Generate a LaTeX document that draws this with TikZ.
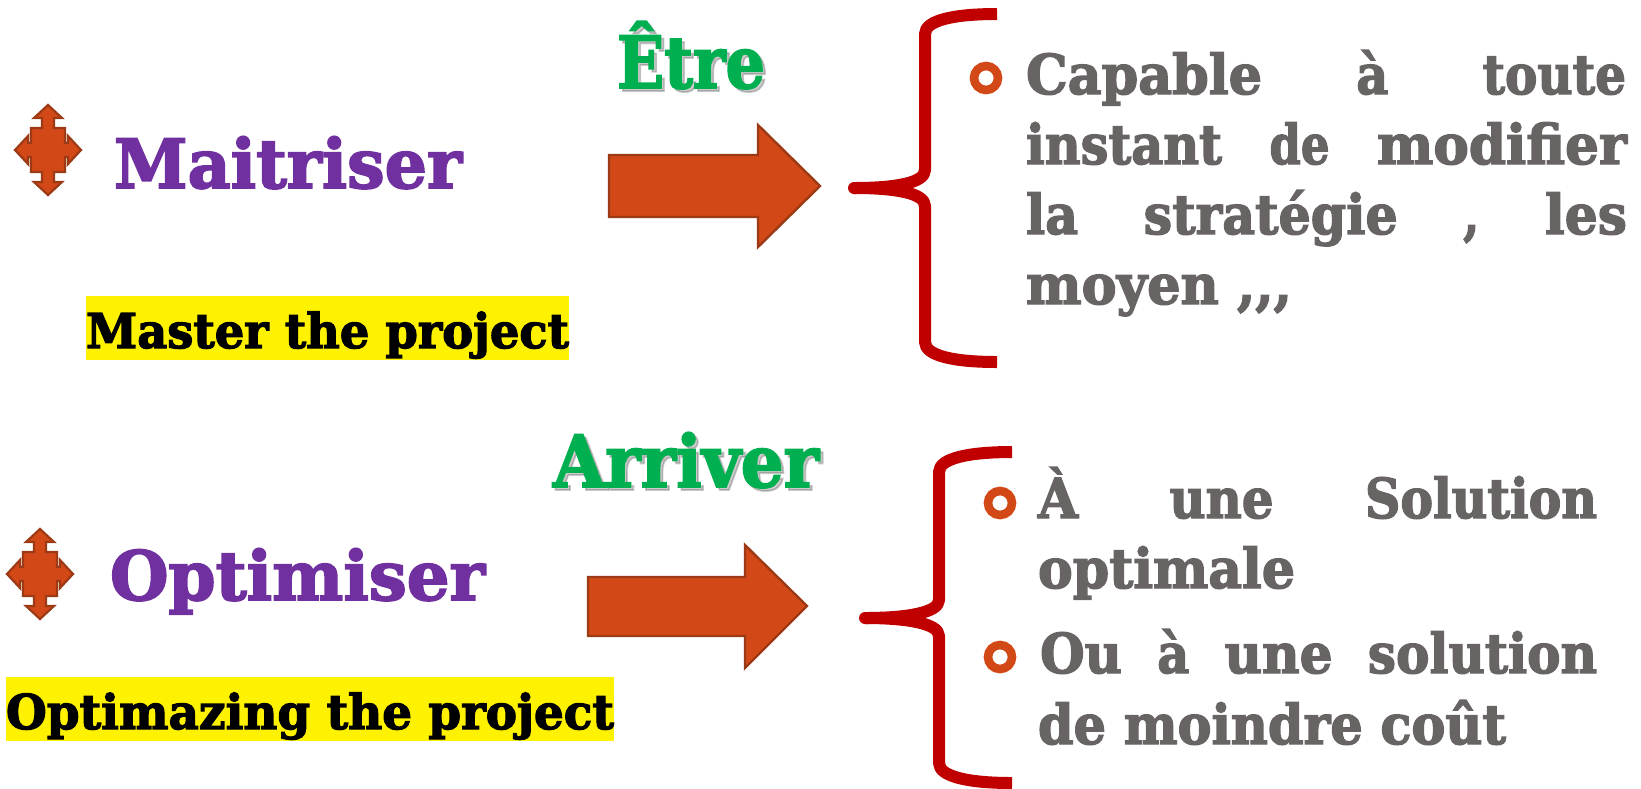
\documentclass[tikz,border=0pt]{standalone}
\usepackage{fontspec}
\usepackage{graphicx}
\newfontfamily\rk[UprightFont=* Bold,FakeBold=2.6]{DejaVu Serif}
\definecolor{acc}{HTML}{D34817}
\definecolor{accd}{HTML}{9B3A14}
\definecolor{brc}{HTML}{C00000}
\definecolor{pur}{HTML}{7030A0}
\definecolor{grn}{HTML}{00B050}
\definecolor{gry}{HTML}{696464}
\newcommand\fitw[2]{\resizebox{#1pt}{\height}{#2}}
\newcommand\just[2]{\makebox[#1pt][s]{#2}}
\tikzset{
  x=0.5pt,y=-0.5pt,
  txt/.style={inner sep=0pt,outer sep=0pt,anchor=base west,font=\rk},
  head/.style={txt,text=pur,font=\rk\fontsize{34}{34}\selectfont},
  verb/.style={txt,text=grn,font=\rk\fontsize{36}{36}\selectfont},
  shad/.style={txt,text=black,opacity=.2,font=\rk\fontsize{36}{36}\selectfont},
  eng/.style={txt,text=black,font=\rk\fontsize{24}{24}\selectfont},
  body/.style={txt,text=gry,font=\rk\fontsize{27.5}{27.5}\selectfont},
  bigarrow/.style={fill=acc,draw=accd,line width=1.2pt,line join=miter},
  brace/.style={draw=brc,line width=6pt,line cap=butt,line join=round},
  ring/.style={circle,draw=acc,line width=4.3pt,minimum size=12pt,inner sep=0pt,outer sep=0pt,fill=white},
  cross/.style={fill=acc,draw=accd,line width=1.1pt,line join=miter},
  pics/fourway/.style={code={
    \path[cross] (0,-45)--(14,-32)--(6,-32)--(6,-22)--(17,-22)--(17,-7)--(20,-7)--(20,-14)--(33,0)
      --(20,14)--(20,7)--(17,7)--(17,22)--(6,22)--(6,32)--(14,32)--(0,45)
      --(-14,32)--(-6,32)--(-6,22)--(-17,22)--(-17,7)--(-20,7)--(-20,14)--(-33,0)
      --(-20,-14)--(-20,-7)--(-17,-7)--(-17,-22)--(-6,-22)--(-6,-32)--(-14,-32)--cycle;
  }}
}
\begin{document}
\begin{tikzpicture}
\useasboundingbox (0,0) rectangle (1641,788);
% icons
\pic at (48,150) {fourway};
\pic at (40,574) {fourway};
% yellow bars
\fill[yellow] (86,296) rectangle (569,360);
\fill[yellow] (6,677) rectangle (614,741);
% headings
\node[head] (m) at (114,188) {\fitw{174}{Maitriser}};
\node[head] (o) at (110,600) {\fitw{187.5}{Optimiser}};
\node[eng] (me) at (86,348) {\fitw{241.5}{Master the project}};
\node[eng] (oe) at (6,729) {\fitw{304}{Optimazing the project}};
% verbs
\node[shad] at (620,91) {\fitw{74}{Être}};
\node[verb] (e) at (617,88) {\fitw{74}{Être}};
\node[shad] at (556,490) {\fitw{133}{Arriver}};
\node[verb] (a) at (553,487) {\fitw{133}{Arriver}};
% arrows
\path[bigarrow] (609,155)--(758,155)--(758,125)--(820,186)--(758,247)--(758,217)--(609,217)--cycle;
\path[bigarrow] (588,577)--(745,577)--(745,545)--(807,606)--(745,668)--(745,636)--(588,636)--cycle;
% braces
\draw[brace] (997,14) .. controls (955,14) and (925,20) .. (925,34) -- (925,170)
  .. controls (925,183) and (895,188) .. (854,188);
\draw[brace] (854,188) .. controls (895,188) and (925,193) .. (925,206) -- (925,342)
  .. controls (925,356) and (955,362) .. (997,362);
\fill[brc] (854,188) circle[radius=6];
\draw[brace] (1012,452) .. controls (970,452) and (939,458) .. (939,472) -- (939,600)
  .. controls (939,613) and (905,618) .. (865,618);
\draw[brace] (865,618) .. controls (905,618) and (939,623) .. (939,636) -- (939,763)
  .. controls (939,777) and (970,783) .. (1012,783);
\fill[brc] (865,618) circle[radius=6];
% bullets
\node[ring] (b1) at (986,78) {};
\node[ring] (b2) at (1000,503) {};
\node[ring] (b3) at (1000,657) {};
% body
\node[body] (l1) at (1026,94) {\just{300}{\fitw{118}{Capable}\hfill\fitw{16}{à}\hfill\fitw{71.7}{toute}}};
\node[body] (l2) at (1026,164) {\just{300.5}{\fitw{98}{instant}\hfill\fitw{30}{de}\hfill\fitw{125}{modifier}}};
\node[body] (l3) at (1026,234) {\just{300.5}{\fitw{26}{la}\hfill\fitw{127}{stratégie}\hfill\fitw{8}{,}\hfill\fitw{41}{les}}};
\node[body] (l4) at (1026,304) {\fitw{133}{moyen ,,,}};
\node[body] (l5) at (1038,518) {\just{279.5}{\fitw{20}{À}\hfill\fitw{52}{une}\hfill\fitw{116}{Solution}}};
\node[body] (l6) at (1038,588) {\fitw{128.5}{optimale}};
\node[body] (l7) at (1040,673) {\just{278.5}{\fitw{41}{Ou}\hfill\fitw{16}{à}\hfill\fitw{54}{une}\hfill\fitw{114.6}{solution}}};
\node[body] (l8) at (1038,744) {\fitw{234}{de moindre coût}};
\end{tikzpicture}
\end{document}
